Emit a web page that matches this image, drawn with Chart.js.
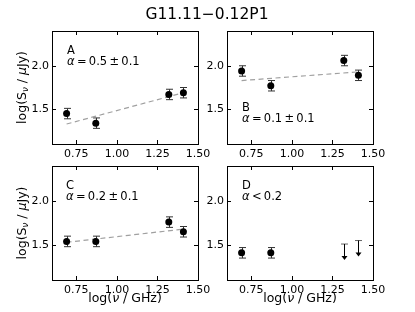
<!DOCTYPE html>
<html>
<head>
<meta charset="utf-8">
<script src="https://cdn.jsdelivr.net/npm/chart.js@4.4.0/dist/chart.umd.min.js"></script>
<style>
  html, body { margin: 0; padding: 0; background: #fff; }
  #wrap { position: relative; width: 415px; height: 312px; }
  #wrap canvas { position: absolute; left: 0; top: 0; }
</style>
</head>
<body>
<div id="wrap">
  <canvas id="pA" width="415" height="312"></canvas>
  <canvas id="pB" width="415" height="312"></canvas>
  <canvas id="pC" width="415" height="312"></canvas>
  <canvas id="pD" width="415" height="312"></canvas>
</div>
<script>
// data
const figTitle = 'G11.11\u22120.12P1';
const logFreq = [0.69, 0.87, 1.32, 1.41];
const fluxA = [1.45, 1.34, 1.67, 1.69];
const fluxB = [1.94, 1.77, 2.06, 1.89];
const fluxC = [1.54, 1.54, 1.76, 1.65];
const fluxD = [1.41, 1.41];          // detections, first two frequencies
const limitD = [1.51, 1.55];         // upper limits, last two frequencies
const fluxErr = [0.06, 0.06, 0.06, 0.06];
const fitX = [0.69, 1.41];
const fitA = [1.33, 1.69];
const fitB = [1.83, 1.93];
const fitC = [1.53, 1.68];
const panelNames = ['A', 'B', 'C', 'D'];
const alphaText = ['\u2009=\u20090.5\u2009\u00b1\u20090.1', '\u2009=\u20090.1\u2009\u00b1\u20090.1',
                   '\u2009=\u20090.2\u2009\u00b1\u20090.1', '\u2009<\u20090.2'];
const xTicks = [0.75, 1.00, 1.25, 1.50];
const yTicks = [1.5, 2.0];
const xRange = [0.6, 1.5];
const yRange = [1.1, 2.4];

const W = 415, H = 312;
const FONT = '"DejaVu Sans"';

function drawRich(ctx, parts, x, y, size, align) {
  // parts: [text, italic, subscript]
  const fontFor = p => (p[1] ? 'italic ' : '') + (p[2] ? size * 0.7 : size) + 'px ' + FONT;
  let total = 0;
  parts.forEach(p => { ctx.font = fontFor(p); total += ctx.measureText(p[0]).width; });
  let cx = align === 'center' ? x - total / 2 : x;
  ctx.textAlign = 'left';
  ctx.textBaseline = 'alphabetic';
  parts.forEach(p => {
    ctx.font = fontFor(p);
    ctx.fillText(p[0], cx, y + (p[2] ? size * 0.22 : 0));
    cx += ctx.measureText(p[0]).width;
  });
}

const panelDecor = {
  id: 'panelDecor',
  beforeDatasetsDraw(chart) {
    const ctx = chart.ctx, xs = chart.scales.x, ys = chart.scales.y;
    ctx.save();
    chart.data.datasets.forEach(ds => {
      if (ds.errors) {
        ds.data.forEach((d, i) => {
          const px = Math.round(xs.getPixelForValue(d.x)) + 0.5;
          const y1 = ys.getPixelForValue(d.y + ds.errors[i]);
          const y2 = ys.getPixelForValue(d.y - ds.errors[i]);
          ctx.strokeStyle = '#333';
          ctx.lineWidth = 1;
          ctx.beginPath();
          ctx.moveTo(px, y1); ctx.lineTo(px, y2);
          ctx.moveTo(px - 3.5, y1); ctx.lineTo(px + 3.5, y1);
          ctx.moveTo(px - 3.5, y2); ctx.lineTo(px + 3.5, y2);
          ctx.stroke();
        });
      }
      if (ds.limits) {
        ds.data.forEach(d => {
          const px = Math.round(xs.getPixelForValue(d.x)) + 0.5;
          const py = ys.getPixelForValue(d.y);
          const len = 16;
          ctx.strokeStyle = '#666';
          ctx.lineWidth = 1;
          ctx.beginPath();
          ctx.moveTo(px - 3.5, py); ctx.lineTo(px + 3.5, py);
          ctx.stroke();
          ctx.strokeStyle = '#000';
          ctx.beginPath();
          ctx.moveTo(px, py); ctx.lineTo(px, py + len - 3);
          ctx.stroke();
          ctx.fillStyle = '#000';
          ctx.beginPath();
          ctx.moveTo(px - 3, py + len - 4);
          ctx.lineTo(px + 3, py + len - 4);
          ctx.lineTo(px, py + len);
          ctx.closePath();
          ctx.fill();
        });
      }
    });
    ctx.restore();
  },
  afterDraw(chart, args, opts) {
    const ctx = chart.ctx, a = chart.chartArea;
    const xs = chart.scales.x, ys = chart.scales.y;
    ctx.save();
    // frame
    ctx.strokeStyle = '#000';
    ctx.lineWidth = 1;
    ctx.strokeRect(Math.round(a.left) + 0.5, Math.round(a.top) + 0.5,
                   Math.round(a.right - a.left), Math.round(a.bottom - a.top));
    // inward ticks on all four sides
    ctx.beginPath();
    xTicks.forEach(v => {
      const px = Math.round(xs.getPixelForValue(v)) + 0.5;
      ctx.moveTo(px, a.bottom); ctx.lineTo(px, a.bottom - 4);
      ctx.moveTo(px, a.top); ctx.lineTo(px, a.top + 4);
    });
    yTicks.forEach(v => {
      const py = Math.round(ys.getPixelForValue(v)) + 0.5;
      ctx.moveTo(a.left, py); ctx.lineTo(a.left + 4, py);
      ctx.moveTo(a.right, py); ctx.lineTo(a.right - 4, py);
    });
    ctx.stroke();
    // panel letter and spectral index
    ctx.fillStyle = '#000';
    drawRich(ctx, [[opts.name, false, false]], a.left + opts.textDx, a.top + opts.textDy, 11.5);
    drawRich(ctx, [['\u03b1', true, false], [opts.alpha, false, false]],
             a.left + opts.textDx, a.top + opts.textDy + 11, 11.5);
    if (opts.yTitle) {
      ctx.save();
      ctx.translate(25.5, (a.top + a.bottom) / 2);
      ctx.rotate(-Math.PI / 2);
      drawRich(ctx, [['log(S', false, false], ['\u03bd', true, true], [' / ', false, false],
                     ['\u03bc', true, false], ['Jy)', false, false]], 0, 0, 12.5, 'center');
      ctx.restore();
    }
    if (opts.xTitle) {
      drawRich(ctx, [['log(', false, false], ['\u03bd', true, false], [' / GHz)', false, false]],
               (a.left + a.right) / 2, 302, 12.5, 'center');
    }
    if (opts.mainTitle) {
      ctx.font = '15.5px ' + FONT;
      ctx.textAlign = 'center';
      ctx.textBaseline = 'alphabetic';
      ctx.fillText(figTitle, 207, 18.5);
    }
    ctx.restore();
  }
};

function makePanel(id, p) {
  const datasets = [];
  if (p.fit) {
    datasets.push({
      type: 'line',
      data: fitX.map((x, i) => ({ x: x, y: p.fit[i] })),
      borderColor: '#a0a0a0', borderWidth: 1.2, borderDash: [5, 3.5],
      pointRadius: 0, fill: false, order: 2
    });
  }
  datasets.push({
    data: p.flux.map((y, i) => ({ x: logFreq[i], y: y })),
    errors: fluxErr.slice(0, p.flux.length),
    pointRadius: 3.5, pointBackgroundColor: '#000', pointBorderWidth: 0,
    showLine: false, order: 1
  });
  if (p.limits) {
    datasets.push({
      data: p.limits.map((y, i) => ({ x: logFreq[p.flux.length + i], y: y })),
      limits: true, pointRadius: 0, showLine: false, order: 1
    });
  }
  const tickFont = { family: 'DejaVu Sans', size: 11 };
  new Chart(document.getElementById(id), {
    type: 'scatter',
    data: { datasets: datasets },
    options: {
      responsive: false,
      animation: false,
      events: [],
      layout: { padding: { left: 0, top: p.box.top, right: W - p.box.right, bottom: 0 } },
      plugins: {
        legend: { display: false },
        tooltip: { enabled: false },
        panelDecor: p
      },
      scales: {
        x: {
          type: 'linear', min: xRange[0], max: xRange[1],
          afterFit: s => { s.height = H - p.box.bottom; },
          afterBuildTicks: s => { s.ticks = xTicks.map(v => ({ value: v })); },
          grid: { display: false, drawTicks: false },
          border: { display: false },
          ticks: { padding: 4, color: '#000', font: tickFont, maxRotation: 0, autoSkip: false,
                   callback: v => v.toFixed(2) }
        },
        y: {
          type: 'linear', min: yRange[0], max: yRange[1],
          afterFit: s => { s.width = p.box.left; },
          afterBuildTicks: s => { s.ticks = yTicks.map(v => ({ value: v })); },
          grid: { display: false, drawTicks: false },
          border: { display: false },
          ticks: { padding: 3, color: '#000', font: tickFont, autoSkip: false,
                   callback: v => v.toFixed(1) }
        }
      }
    },
    plugins: [panelDecor]
  });
}

makePanel('pA', { box: { left: 52, top: 31, right: 198, bottom: 144 }, flux: fluxA, fit: fitA,
  name: panelNames[0], alpha: alphaText[0], textDx: 15, textDy: 23, yTitle: true, mainTitle: true });
makePanel('pB', { box: { left: 227, top: 31, right: 373, bottom: 144 }, flux: fluxB, fit: fitB,
  name: panelNames[1], alpha: alphaText[1], textDx: 15, textDy: 80 });
makePanel('pC', { box: { left: 52, top: 166, right: 198, bottom: 280 }, flux: fluxC, fit: fitC,
  name: panelNames[2], alpha: alphaText[2], textDx: 14, textDy: 23, yTitle: true, xTitle: true });
makePanel('pD', { box: { left: 227, top: 166, right: 373, bottom: 280 }, flux: fluxD, limits: limitD,
  name: panelNames[3], alpha: alphaText[3], textDx: 15, textDy: 23, xTitle: true });
</script>
</body>
</html>
